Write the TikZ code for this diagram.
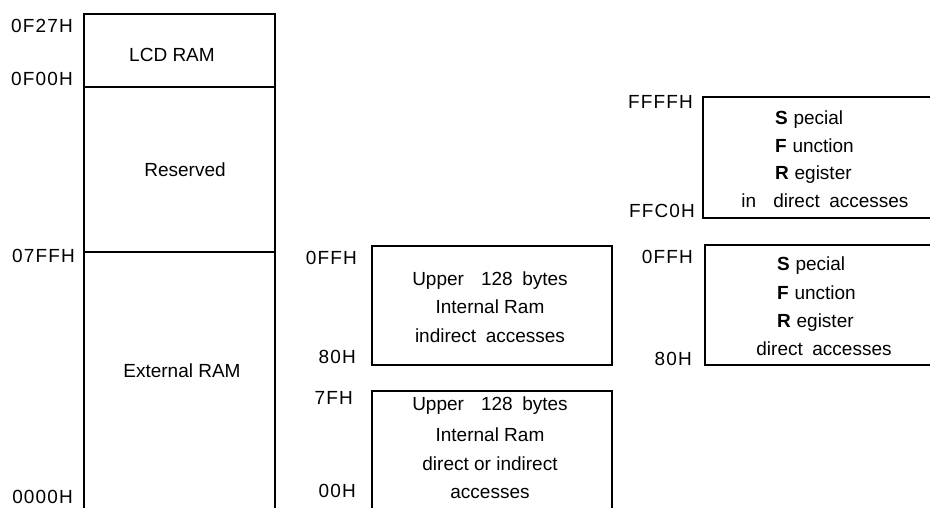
\documentclass[tikz,border=0pt]{standalone}
\usepackage{fontspec}
\setmainfont{Liberation Sans}
\begin{document}
\begin{tikzpicture}[x=1pt,y=-1pt,
  box/.style={line width=2pt,line join=miter},
  txt/.style={inner sep=0pt,font=\fontsize{19}{23}\selectfont},
  addr/.style={inner sep=0pt,anchor=base east,font=\fontsize{19}{23}\selectfont\addfontfeature{LetterSpace=6}},
  mid/.style={txt,anchor=base},
  lft/.style={txt,anchor=base west}]
\useasboundingbox (0,0) rectangle (930,507);
% left memory column
\draw[box] (84,508) -- (84,14) -- (275,14) -- (275,508);
\draw[box] (84,87) -- (275,87);
\draw[box] (84,252) -- (275,252);
\node[addr] (a1) at (73,32) {0F27H};
\node[addr] (a2) at (73,85) {0F00H};
\node[addr] (a3) at (75,262) {07FFH};
\node[addr] (a4) at (73,503) {0000H};
\node[mid] (lcd) at (172,61) {LCD RAM};
\node[mid] (res) at (185,176) {Reserved};
\node[mid] (ext) at (182,377) {External RAM};
% middle boxes
\draw[box] (372,246) rectangle (612,365);
\draw[box] (372,508) -- (372,391) -- (612,391) -- (612,508);
\node[addr] (m1) at (357,264) {0FFH};
\node[addr] (m2) at (356,363) {80H};
\node[addr] (m3) at (353,404) {7FH};
\node[addr] (m4) at (356,497) {00H};
\node[mid] (u1) at (490,285) {Upper\hspace{0.9em}128\hspace{0.5em}bytes};
\node[mid] (u2) at (490,313) {Internal Ram};
\node[mid] (u3) at (490,342) {indirect\hspace{0.5em}accesses};
\node[mid] (l1) at (490,410) {Upper\hspace{0.9em}128\hspace{0.5em}bytes};
\node[mid] (l2) at (490,441) {Internal Ram};
\node[mid] (l3) at (490,470) {direct or indirect};
\node[mid] (l4) at (490,498) {accesses};
% right boxes
\draw[box] (931,97) -- (703,97) -- (703,218) -- (931,218);
\draw[box] (931,245) -- (705,245) -- (705,365) -- (931,365);
\node[addr] (r1) at (693,108) {FFFFH};
\node[addr] (r2) at (695,217) {FFC0H};
\node[addr] (r3) at (693,263) {0FFH};
\node[addr] (r4) at (692,365) {80H};
\node[lft] (s1) at (775,124) {\textbf{S}\hspace{0.3em}pecial};
\node[lft] (s2) at (775,152) {\textbf{F}\hspace{0.3em}unction};
\node[lft] (s3) at (775,179) {\textbf{R}\hspace{0.3em}egister};
\node[mid] (s4) at (825,207) {in\hspace{0.9em}direct\hspace{0.5em}accesses};
\node[lft] (t1) at (777,270) {\textbf{S}\hspace{0.3em}pecial};
\node[lft] (t2) at (777,299) {\textbf{F}\hspace{0.3em}unction};
\node[lft] (t3) at (777,327) {\textbf{R}\hspace{0.3em}egister};
\node[mid] (t4) at (824,355) {direct\hspace{0.5em}accesses};
\end{tikzpicture}
\end{document}
